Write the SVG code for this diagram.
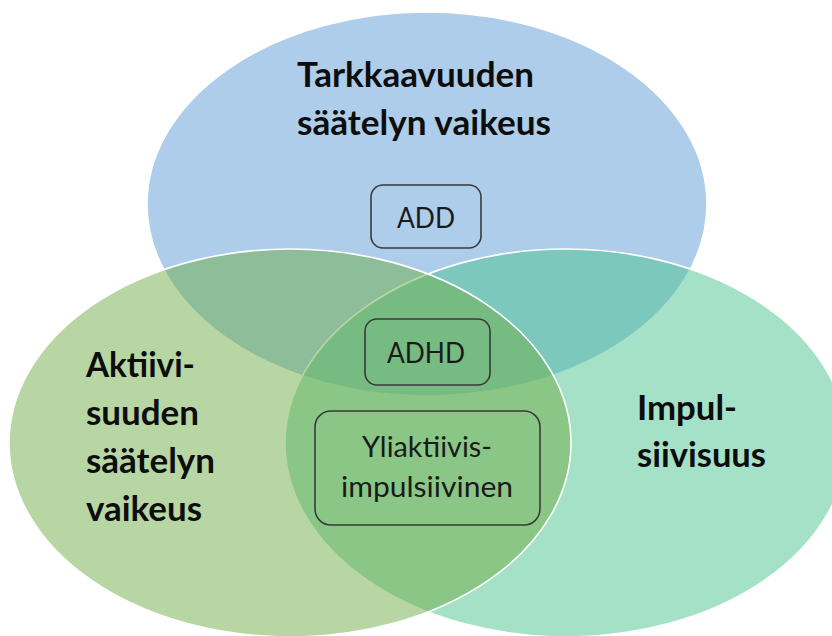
<svg xmlns="http://www.w3.org/2000/svg" width="832" height="636" viewBox="0 0 832 636">
<style>
.set{stroke:#ffffff;stroke-width:1.6;fill-opacity:0.5}
.title{font-family:Lato,"Open Sans","Liberation Sans",sans-serif;font-weight:bold;font-size:34px;fill:#0d0d0d}
.box{fill:none;stroke:#3a3a3a;stroke-width:1.6}
.lbl{font-family:Lato,"Open Sans","Liberation Sans",sans-serif;font-size:29px;fill:#1a1a1a}
</style>
<rect width="832" height="636" fill="#ffffff"/>
<g id="set-attention">
<ellipse class="set" cx="427" cy="204" rx="280" ry="192" fill="#5B9BD5"/>
</g>
<g id="set-impulsivity">
<ellipse class="set" cx="566" cy="443" rx="281" ry="194" fill="#4BC38F"/>
</g>
<g id="set-activity">
<ellipse class="set" cx="290" cy="443" rx="281" ry="194" fill="#70AD47"/>
</g>
<g id="label-attention">
<text class="title" x="297" y="87" textLength="237" lengthAdjust="spacingAndGlyphs">Tarkkaavuuden</text>
<text class="title" x="297" y="135" textLength="254" lengthAdjust="spacingAndGlyphs">säätelyn vaikeus</text>
</g>
<g id="label-activity">
<text class="title" x="86" y="377" textLength="109" lengthAdjust="spacingAndGlyphs">Aktiivi-</text>
<text class="title" x="86" y="425" textLength="113" lengthAdjust="spacingAndGlyphs">suuden</text>
<text class="title" x="86" y="473" textLength="129" lengthAdjust="spacingAndGlyphs">säätelyn</text>
<text class="title" x="86" y="521" textLength="116" lengthAdjust="spacingAndGlyphs">vaikeus</text>
</g>
<g id="label-impulsivity">
<text class="title" x="637" y="420" textLength="100" lengthAdjust="spacingAndGlyphs">Impul-</text>
<text class="title" x="637" y="467" textLength="129" lengthAdjust="spacingAndGlyphs">siivisuus</text>
</g>
<g id="node-add">
<rect class="box" x="371" y="185" width="110" height="63" rx="12"/>
<text class="lbl" x="397" y="228" textLength="58" lengthAdjust="spacingAndGlyphs">ADD</text>
</g>
<g id="node-adhd">
<rect class="box" x="365" y="319" width="125" height="66" rx="12"/>
<text class="lbl" x="387" y="363" textLength="78" lengthAdjust="spacingAndGlyphs">ADHD</text>
</g>
<g id="node-combined">
<rect class="box" x="315" y="411" width="225" height="114" rx="16"/>
<text class="lbl" x="362" y="457" textLength="130" lengthAdjust="spacingAndGlyphs">Yliaktiivis-</text>
<text class="lbl" x="341" y="497" textLength="172" lengthAdjust="spacingAndGlyphs">impulsiivinen</text>
</g>
<g id="connectors"></g>
</svg>
